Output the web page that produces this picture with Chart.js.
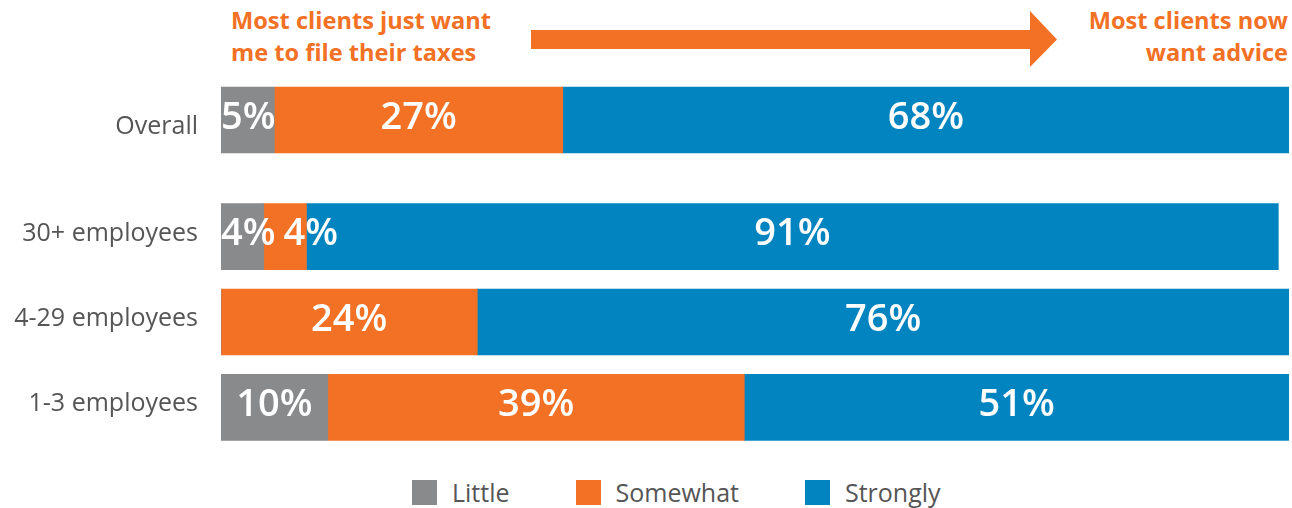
<!DOCTYPE html>
<html>
<head>
<meta charset="utf-8">
<script src="https://cdn.jsdelivr.net/npm/chart.js@4.4.1/dist/chart.umd.min.js"></script>
<style>
  body { margin: 0; background: #fff; font-family: "Open Sans", sans-serif; }
  #page { position: relative; width: 1292px; height: 508px; overflow: hidden; }
  .note { position: absolute; top: 4px; color: #f37124; font-weight: 700; font-size: 23.6px; line-height: 32px; }
  #noteLeft { left: 231px; }
  #noteRight { right: 4px; text-align: right; }
  #arrow { position: absolute; left: 0; top: 0; }
  canvas { position: absolute; left: 0; }
  #overallChart { top: 70px; }
  #groupChart { top: 194px; }
  #legend { position: absolute; left: 412px; top: 480px; display: flex; align-items: center; }
  .item { display: flex; align-items: center; margin-right: 66px; color: #555; font-size: 25px; line-height: 25px; }
  .swatch { width: 25px; height: 25px; margin-right: 15px; }
</style>
</head>
<body>
<div id="page">
  <div class="note" id="noteLeft">Most clients just want<br>me to file their taxes</div>
  <div class="note" id="noteRight">Most clients now<br>want advice</div>
  <svg id="arrow" width="1292" height="80">
    <polygon points="531,30 1030,30 1030,11 1057,39.5 1030,67 1030,49 531,49" fill="#f37124"/>
  </svg>
  <canvas id="overallChart" width="1292" height="100"></canvas>
  <canvas id="groupChart" width="1292" height="256"></canvas>
  <div id="legend"></div>
</div>
<script>
const categories = ["Overall", "30+ employees", "4-29 employees", "1-3 employees"];
const seriesNames = ["Little", "Somewhat", "Strongly"];
const little = [5, 4, 0, 10];
const somewhat = [27, 4, 24, 39];
const strongly = [68, 91, 76, 51];
const colors = ["#898a8c", "#f37124", "#0284c1"];

const seriesValues = [little, somewhat, strongly];

// white % labels in the middle of each segment, nudged right when two collide
const barLabels = {
  id: "barLabels",
  afterDatasetsDraw(chart) {
    const ctx = chart.ctx;
    ctx.save();
    ctx.font = '600 38px "Open Sans"';
    ctx.fillStyle = "#fff";
    ctx.textBaseline = "middle";
    ctx.textAlign = "left";
    for (let r = 0; r < chart.data.labels.length; r++) {
      let prevRight = -Infinity;
      chart.data.datasets.forEach((ds, i) => {
        const v = ds.data[r];
        if (!v) return;
        const bar = chart.getDatasetMeta(i).data[r];
        const { x, y, base } = bar.getProps(["x", "y", "base"], true);
        const text = v + "%";
        const w = ctx.measureText(text).width;
        let left = Math.max((x + base) / 2 - w / 2, Math.min(x, base));
        left = Math.max(left, prevRight + 8);
        ctx.fillText(text, left, y - 2);
        prevRight = left + w;
      });
    }
    ctx.restore();
  },
};

function makeChart(id, rows, labelOffset) {
  const ctx = document.getElementById(id).getContext("2d");
  return new Chart(ctx, {
    type: "bar",
    data: {
      labels: rows.map((r) => categories[r]),
      datasets: seriesNames.map((name, i) => ({
        label: name,
        data: rows.map((r) => seriesValues[i][r]),
        backgroundColor: colors[i],
        borderWidth: 0,
        barThickness: 66,
      })),
    },
    options: {
      indexAxis: "y",
      responsive: false,
      animation: false,
      layout: { padding: { left: 0, right: 3, top: 0, bottom: 0 } },
      plugins: {
        legend: { display: false },
        tooltip: { enabled: false },
      },
      scales: {
        x: { stacked: true, min: 0, max: 100, display: false },
        y: {
          stacked: true,
          grid: { display: false, drawTicks: false },
          border: { display: false },
          ticks: {
            padding: 23,
            color: "#555",
            labelOffset: labelOffset,
            font: { family: "Open Sans", size: 25 },
          },
          afterFit(scale) {
            // fixed label column; no extra room above/below the bars
            scale.width = 221;
            scale.paddingTop = 0;
            scale.paddingBottom = 0;
          },
        },
      },
    },
    plugins: [barLabels],
  });
}

makeChart("overallChart", [0], 7);
const groupChart = makeChart("groupChart", [1, 2, 3], -3);

// legend built from the datasets
const legend = document.getElementById("legend");
groupChart.data.datasets.forEach((ds) => {
  const item = document.createElement("div");
  item.className = "item";
  item.innerHTML = `<span class="swatch" style="background:${ds.backgroundColor}"></span>${ds.label}`;
  legend.appendChild(item);
});
</script>
</body>
</html>
